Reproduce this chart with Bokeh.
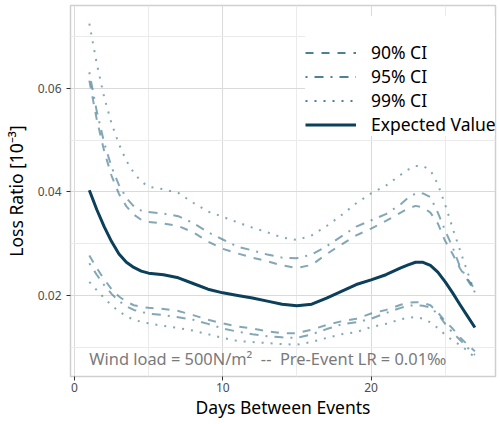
from bokeh.plotting import figure
from bokeh.models import (Range1d, FixedTicker, Legend, LegendItem, Label)
from bokeh.embed import file_html
from bokeh.resources import INLINE

# ---- data ----
days = [1, 1.5, 2, 2.5, 3, 3.5, 4, 4.5,
        5, 6, 7, 8, 9, 10, 11, 12, 13, 14, 15, 16, 17, 18, 19, 20, 21, 22,
        22.5, 23, 23.5, 24, 24.5, 25, 25.5, 26, 26.5, 27]

expected = [.0403, .0366, .0333, .0304, .0280, .0264, .0254, .0247,
            .0243, .0240, .0234, .0223, .0212, .0205, .0200, .0195, .0189, .0183,
            .0180, .0183, .0195, .0208, .0221, .0230, .0240, .0253,
            .0259, .0264, .0264, .0258, .0245, .0226, .0205, .0182, .0160, .0138]

upper_99 = [.0725, .0648, .0583, .0532, .0492, .0460, .0437, .0420,
            .0410, .0405, .0398, .0379, .0362, .0352, .0341, .0331, .0322, .0312,
            .0307, .0316, .0334, .0355, .0378, .0397, .0412, .0433,
            .0443, .0450, .0450, .0442, .0415, .0375, .0330, .0287, .0245, .0205]
upper_95 = [.0631, .0556, .0495, .0448, .0413, .0388, .0372, .0364,
            .0361, .0358, .0353, .0340, .0322, .0308, .0294, .0287, .0279, .0273,
            .0272, .0279, .0295, .0314, .0333, .0345, .0357, .0376,
            .0389, .0397, .0397, .0390, .0360, .0325, .0293, .0255, .0232, .0212]
upper_90 = [.0615, .0540, .0479, .0431, .0396, .0372, .0356, .0346,
            .0342, .0339, .0334, .0322, .0304, .0290, .0281, .0273, .0266, .0258,
            .0253, .0259, .0280, .0298, .0316, .0329, .0344, .0360,
            .0368, .0373, .0370, .0360, .0339, .0305, .0280, .0252, .0230, .0208]

lower_90 = [.0277, .0253, .0231, .0212, .0198, .0188, .0181, .0178,
            .0176, .0174, .0170, .0162, .0153, .0146, .0140, .0136, .0131, .0127,
            .0127, .0134, .0143, .0150, .0155, .0165, .0172, .0182,
            .0186, .0187, .0186, .0181, .0167, .0150, .0136, .0119, .0105, .0092]
lower_95 = [.0262, .0240, .0220, .0203, .0189, .0179, .0172, .0168,
            .0165, .0162, .0158, .0153, .0145, .0136, .0130, .0125, .0121, .0119,
            .0118, .0125, .0135, .0144, .0148, .0155, .0166, .0176,
            .0180, .0181, .0180, .0177, .0164, .0145, .0128, .0114, .0099, .0085]
lower_99 = [.0226, .0210, .0195, .0181, .0169, .0160, .0153, .0149,
            .0146, .0141, .0137, .0132, .0125, .0118, .0112, .0110, .0108, .0106,
            .0105, .0110, .0118, .0125, .0129, .0139, .0145, .0154,
            .0157, .0158, .0155, .0148, .0137, .0124, .0113, .0104, .0093, .0080]

x_ticks = [0, 10, 20]
x_minor = [5, 15, 25]
y_ticks = [0.02, 0.04, 0.06]
y_minor = [0.01, 0.03, 0.05, 0.07]
y_tick_labels = {0.02: "0.02", 0.04: "0.04", 0.06: "0.06"}

legend_labels = ["90% CI", "95% CI", "99% CI", "Expected Value"]
note_text = "Wind load = 500N/m²\u00a0\u00a0--\u00a0\u00a0Pre-Event LR = 0.01‰"
note_x, note_y = 1.0, 0.0078

FONT = "Noto Sans"
CI_COLOR = "#4f8196"
EV_COLOR = "#0b3f5a"

p = figure(width=497, height=424, output_backend="svg", toolbar_location=None,
           x_range=Range1d(-0.27, 28.39), y_range=Range1d(0.00434, 0.0760),
           min_border_left=68, min_border_right=2, min_border_top=5,
           min_border_bottom=48)
p.background_fill_color = "white"
p.border_fill_color = "white"
p.outline_line_color = "#cfcfcf"
p.outline_line_width = 1.5

p.xaxis.ticker = FixedTicker(ticks=x_ticks, minor_ticks=x_minor)
p.yaxis.ticker = FixedTicker(ticks=y_ticks, minor_ticks=y_minor)
p.yaxis.major_label_overrides = y_tick_labels

for ax in (p.xaxis, p.yaxis):
    ax.axis_line_color = None
    ax.major_tick_line_color = "#333333"
    ax.major_tick_out = 4
    ax.major_tick_in = 0
    ax.minor_tick_line_color = None
    ax.major_label_text_font = FONT
    ax.major_label_text_font_size = "12px"
    ax.major_label_text_color = "#4d4d4d"
    ax.axis_label_text_font = FONT
    ax.axis_label_text_font_size = "17.5px"
    ax.axis_label_text_font_style = "normal"
    ax.axis_label_text_color = "black"

p.xaxis.axis_label = "Days Between Events"
p.yaxis.axis_label = "Loss Ratio [10⁻³]"
p.xaxis.major_label_standoff = 2
p.xaxis.axis_label_standoff = 0
p.yaxis.major_label_standoff = 5
p.yaxis.axis_label_standoff = 7

for g in (p.xgrid, p.ygrid):
    g.grid_line_color = "#dadada"
    g.grid_line_width = 1
    g.minor_grid_line_color = "#ebebeb"
    g.minor_grid_line_width = 1

ci_w = 2
dash90 = "8 8"
dash95 = "2 7 9 7"
dash99 = "2 7"

p.line(days, upper_90, line_color=CI_COLOR, line_alpha=0.7, line_width=ci_w, line_dash=dash90)
p.line(days, lower_90, line_color=CI_COLOR, line_alpha=0.7, line_width=ci_w, line_dash=dash90)
p.line(days, upper_95, line_color=CI_COLOR, line_alpha=0.7, line_width=ci_w, line_dash=dash95)
p.line(days, lower_95, line_color=CI_COLOR, line_alpha=0.7, line_width=ci_w, line_dash=dash95)
p.line(days, upper_99, line_color=CI_COLOR, line_alpha=0.7, line_width=ci_w, line_dash=dash99)
p.line(days, lower_99, line_color=CI_COLOR, line_alpha=0.7, line_width=ci_w, line_dash=dash99)
rev = p.line(days, expected, line_color=EV_COLOR, line_width=3, line_join="round")

# hidden copies used only as (full-opacity) legend keys
k90 = p.line(days, upper_90, line_color=CI_COLOR, line_width=ci_w, line_dash=dash90, visible=False)
k95 = p.line(days, upper_95, line_color=CI_COLOR, line_width=ci_w, line_dash=dash95, visible=False)
k99 = p.line(days, upper_99, line_color=CI_COLOR, line_width=ci_w, line_dash=dash99, visible=False)

legend = Legend(items=[
    LegendItem(label=legend_labels[0], renderers=[k90]),
    LegendItem(label=legend_labels[1], renderers=[k95]),
    LegendItem(label=legend_labels[2], renderers=[k99]),
    LegendItem(label=legend_labels[3], renderers=[rev]),
], location=(235, 240))
legend.title = "\u00a0"
legend.title_text_font_size = "14px"
legend.title_standoff = 8
legend.padding = 12
legend.margin = 0
legend.spacing = 0
legend.glyph_width = 51
legend.glyph_height = 21
legend.label_height = 21
legend.label_standoff = 15
legend.label_text_font = FONT
legend.label_text_font_size = "17.5px"
legend.label_text_color = "black"
legend.border_line_color = None
legend.background_fill_color = "white"
legend.background_fill_alpha = 1
legend.inactive_fill_alpha = 0
legend.click_policy = "none"
p.add_layout(legend, "center")

note = Label(x=note_x, y=note_y, text=note_text, text_font=FONT,
             text_font_size="16.4px", text_color="#7a7a7a",
             text_align="left", text_baseline="middle")
p.add_layout(note)

open("out.html", "w").write(file_html(p, INLINE))
